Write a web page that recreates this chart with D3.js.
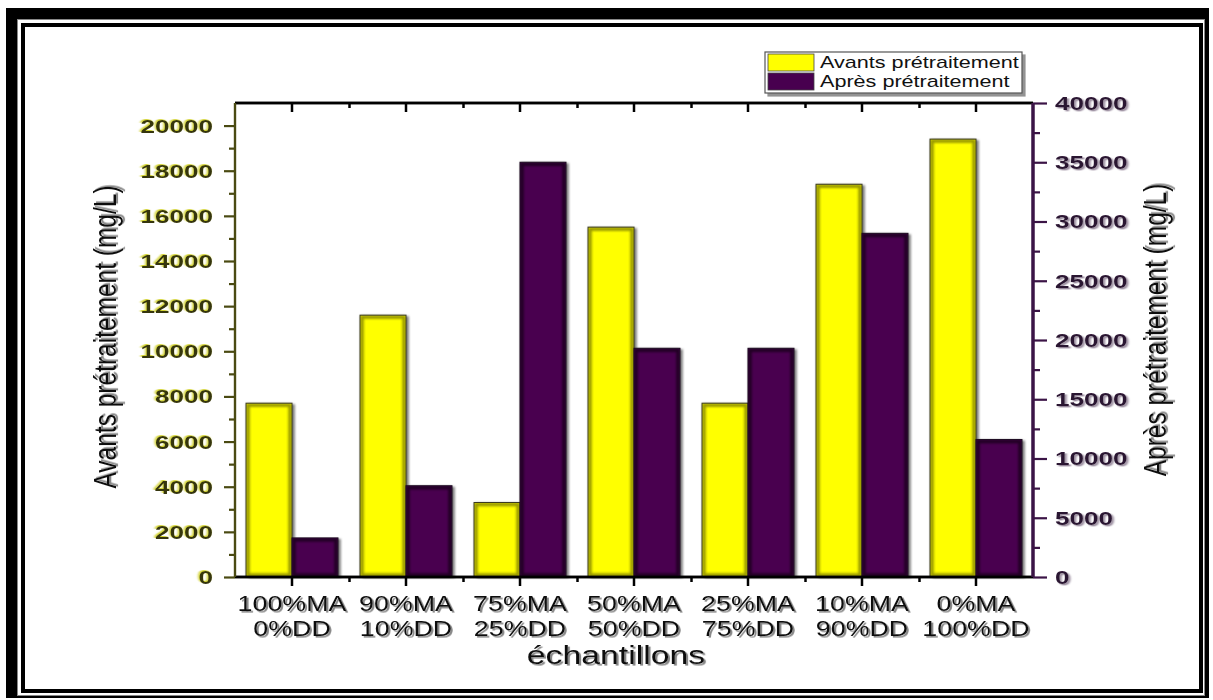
<!DOCTYPE html>
<html>
<head>
<meta charset="utf-8">
<script src="https://cdn.jsdelivr.net/npm/d3@7/dist/d3.min.js"></script>
<style>
  html, body { margin: 0; padding: 0; background: #fff; }
  svg { display: block; font-family: "Liberation Sans", Arial, sans-serif; }
</style>
</head>
<body>
<svg id="chart" width="1213" height="700"></svg>
<script>
// Sample mixes (MA / DD proportions)
const maLabels = ["100%MA", "90%MA", "75%MA", "50%MA", "25%MA", "10%MA", "0%MA"];
const ddLabels = ["0%DD", "10%DD", "25%DD", "50%DD", "75%DD", "90%DD", "100%DD"];
const categories = maLabels.map((m, i) => m + " " + ddLabels[i]);

// Concentrations (mg/L)
const avantValues = [7700, 11600, 3300, 15500, 7700, 17400, 19400];   // left axis
const apresValues = [3300, 7700, 35000, 19300, 19300, 29000, 11600];  // right axis

const seriesNames = ["Avants prétraitement", "Après prétraitement"];
const leftTicks = [0, 2000, 4000, 6000, 8000, 10000, 12000, 14000, 16000, 18000, 20000];
const leftMinor = [1000, 3000, 5000, 7000, 9000, 11000, 13000, 15000, 17000, 19000];
const rightTicks = [0, 5000, 10000, 15000, 20000, 25000, 30000, 35000, 40000];
const rightMinor = [2500, 7500, 12500, 17500, 22500, 27500, 32500, 37500];

const colors = { avant: "#ffff00", apres: "#48004f" };
const leftAxisColor = "#4a4a12";
const rightAxisColor = "#3b1446";

const svg = d3.select("#chart");
const defs = svg.append("defs");

// Grey drop shadow to the lower right of each bar
const fx = defs.append("filter").attr("id", "barFx")
  .attr("x", "-20%").attr("y", "-5%").attr("width", "140%").attr("height", "110%");
fx.append("feOffset").attr("in", "SourceAlpha").attr("dx", 2.5).attr("dy", 1).attr("result", "off");
fx.append("feGaussianBlur").attr("in", "off").attr("stdDeviation", 0.8).attr("result", "offb");
fx.append("feFlood").attr("flood-color", "#8a8a8a").attr("result", "grey");
fx.append("feComposite").attr("in", "grey").attr("in2", "offb").attr("operator", "in").attr("result", "drop");
const fm = fx.append("feMerge");
fm.append("feMergeNode").attr("in", "drop");
fm.append("feMergeNode").attr("in", "SourceGraphic");

// Soft blur for the darkened inner rim of bars
defs.append("filter").attr("id", "rimBlur").attr("x", "-20%").attr("y", "-5%").attr("width", "140%").attr("height", "110%")
  .append("feGaussianBlur").attr("stdDeviation", 1.1);

// Text shadows
function shadowFilter(id, color, dx, dy, op) {
  const f = defs.append("filter").attr("id", id)
    .attr("x", "-20%").attr("y", "-30%").attr("width", "140%").attr("height", "160%");
  f.append("feDropShadow").attr("dx", dx).attr("dy", dy).attr("stdDeviation", 0.6)
    .attr("flood-color", color).attr("flood-opacity", op);
}
shadowFilter("txtShadow", "#7a7a7a", 1.6, 1.6, 0.9);
shadowFilter("leftShadow", "#c8c800", -1.0, -1.0, 0.8);
shadowFilter("rightShadow", "#8a7a90", 1.4, 1.4, 0.9);
shadowFilter("boxShadow", "#777", 3, 3, 0.8);

// Double frame around the figure
svg.append("rect").attr("x", 6).attr("y", 8).attr("width", 1203).attr("height", 690).attr("fill", "#000");
svg.append("rect").attr("x", 17.5).attr("y", 19.5).attr("width", 1187).attr("height", 676)
  .attr("fill", "#fff").attr("stroke", "#888").attr("stroke-width", 1);
svg.append("rect").attr("x", 23).attr("y", 25).attr("width", 1178).attr("height", 666)
  .attr("fill", "#fff").attr("stroke", "#000").attr("stroke-width", 4);

// Scales
const plot = { left: 235, right: 1033, top: 103, bottom: 577 };
const x = d3.scaleBand().domain(categories).range([plot.left, plot.right]).paddingInner(0).paddingOuter(0);
const xSub = d3.scaleBand().domain(["avant", "apres"]).range([0, x.bandwidth()]).paddingInner(0).paddingOuter(0.24);
const yLeft = d3.scaleLinear().domain([0, 21000]).range([plot.bottom, plot.top]);
const yRight = d3.scaleLinear().domain([0, 40000]).range([plot.bottom, plot.top]);

// Bars
const barSeries = [
  { key: "avant", values: avantValues, y: yLeft, fill: colors.avant, stroke: "#3a3a20", rim: "rgba(70,70,0,0.55)" },
  { key: "apres", values: apresValues, y: yRight, fill: colors.apres, stroke: "#1e0a22", rim: "rgba(0,0,0,0.55)" }
];
const bars = svg.append("g");
barSeries.forEach(s => {
  const g = bars.append("g");
  const bx = (d, i) => x(categories[i]) + xSub(s.key);
  g.selectAll("rect.body").data(s.values).join("rect")
    .attr("class", "body")
    .attr("x", bx)
    .attr("y", d => s.y(d))
    .attr("width", xSub.bandwidth())
    .attr("height", d => s.y(0) - s.y(d))
    .attr("fill", s.fill)
    .attr("filter", "url(#barFx)");
  g.selectAll("rect.rim").data(s.values).join("rect")
    .attr("class", "rim")
    .attr("x", (d, i) => bx(d, i) + 2)
    .attr("y", d => s.y(d) + 2)
    .attr("width", xSub.bandwidth() - 4)
    .attr("height", d => Math.max(0, s.y(0) - s.y(d) - 4))
    .attr("fill", "none").attr("stroke", s.rim).attr("stroke-width", 3.5)
    .attr("filter", "url(#rimBlur)");
  g.selectAll("rect.edge").data(s.values).join("rect")
    .attr("class", "edge")
    .attr("x", bx)
    .attr("y", d => s.y(d))
    .attr("width", xSub.bandwidth())
    .attr("height", d => s.y(0) - s.y(d))
    .attr("fill", "none").attr("stroke", s.stroke).attr("stroke-width", 1);
});

// Top axis (ticks pointing inward, no labels)
const boundaries = categories.slice(1).map(c => x(c));
const edgeScale = d3.scaleLinear().domain([plot.left, plot.right]).range([plot.left, plot.right]);
const topG = svg.append("g").attr("transform", `translate(0,${plot.top})`);
topG.call(d3.axisBottom(x).tickSize(9).tickFormat(""));
topG.append("g").call(d3.axisBottom(edgeScale).tickValues(boundaries).tickSize(5).tickFormat(""));
topG.selectAll("path, line").attr("stroke", "#000").attr("stroke-width", 2.5);
topG.selectAll("path.domain").attr("d", `M${plot.left},0H${plot.right}`);

// Bottom axis
const botG = svg.append("g").attr("transform", `translate(0,${plot.bottom})`);
botG.call(d3.axisBottom(x).tickSize(9).tickFormat(""));
botG.append("g").call(d3.axisBottom(edgeScale).tickValues(boundaries).tickSize(5).tickFormat(""));
botG.selectAll("path, line").attr("stroke", "#000").attr("stroke-width", 2.5);
botG.selectAll("path.domain").attr("d", `M${plot.left},0H${plot.right}`);

// Category labels (two lines each)
const catSx = 1.22;
categories.forEach((c, i) => {
  const cx = x(c) + x.bandwidth() / 2;
  [[maLabels[i], 611], [ddLabels[i], 636]].forEach(([t, y]) => {
    svg.append("text").attr("transform", `translate(${cx},${y}) scale(${catSx},1)`)
      .attr("text-anchor", "middle").attr("font-size", 22).attr("fill", "#111")
      .attr("filter", "url(#txtShadow)").text(t);
  });
});
svg.append("text").attr("transform", `translate(${(plot.left + plot.right) / 2 - 18},664) scale(1.3,1)`)
  .attr("text-anchor", "middle").attr("font-size", 26).attr("fill", "#111")
  .attr("filter", "url(#txtShadow)").text("échantillons");

// Left axis
const tickSx = 1.45;
const leftG = svg.append("g").attr("transform", `translate(${plot.left},0)`);
leftG.call(d3.axisLeft(yLeft).tickValues(leftTicks).tickSize(11).tickFormat(d3.format("d")));
leftG.append("g").call(d3.axisLeft(yLeft).tickValues(leftMinor).tickSize(6).tickFormat(""));
leftG.selectAll("path, line").attr("stroke", leftAxisColor).attr("stroke-width", 2.2);
leftG.selectAll("path.domain").attr("d", `M0,${plot.bottom}V${plot.top}`);
leftG.selectAll("text")
  .attr("x", -22 / tickSx).attr("dy", "0.36em")
  .attr("transform", `scale(${tickSx},1)`)
  .attr("font-size", 18).attr("font-weight", "bold")
  .attr("font-family", "'Liberation Sans', Arial, sans-serif")
  .attr("fill", "#36360f").attr("filter", "url(#leftShadow)");

// Right axis
const rightG = svg.append("g").attr("transform", `translate(${plot.right},0)`);
rightG.call(d3.axisRight(yRight).tickValues(rightTicks).tickSize(14).tickFormat(d3.format("d")));
rightG.append("g").call(d3.axisRight(yRight).tickValues(rightMinor).tickSize(7).tickFormat(""));
rightG.selectAll("path, line").attr("stroke", rightAxisColor).attr("stroke-width", 2.2);
rightG.selectAll("path.domain").attr("d", `M0,${plot.bottom}V${plot.top}`).attr("stroke-width", 3);
rightG.selectAll("text")
  .attr("x", 22 / tickSx).attr("dy", "0.36em")
  .attr("transform", `scale(${tickSx},1)`)
  .attr("font-size", 18).attr("font-weight", "bold")
  .attr("font-family", "'Liberation Sans', Arial, sans-serif")
  .attr("fill", "#2c1432").attr("filter", "url(#rightShadow)");

// Axis titles
svg.append("text").attr("transform", `translate(116,337) scale(1.3,1) rotate(-90)`)
  .attr("text-anchor", "middle").attr("font-size", 24.5).attr("fill", "#111")
  .attr("filter", "url(#txtShadow)").text("Avants prétraitement (mg/L)");
svg.append("text").attr("transform", `translate(1166,330) scale(1.3,1) rotate(-90)`)
  .attr("text-anchor", "middle").attr("font-size", 24.5).attr("fill", "#111")
  .attr("filter", "url(#txtShadow)").text("Après prétraitement (mg/L)");

// Legend
const legend = svg.append("g").attr("transform", "translate(765,52)");
legend.append("rect").attr("width", 257).attr("height", 41)
  .attr("fill", "#fff").attr("stroke", "#555").attr("stroke-width", 1.2)
  .attr("filter", "url(#boxShadow)");
const legendColors = [colors.avant, colors.apres];
seriesNames.forEach((name, i) => {
  legend.append("rect").attr("x", 3).attr("y", 2 + i * 19).attr("width", 46).attr("height", 17)
    .attr("fill", legendColors[i]).attr("stroke", "#444").attr("stroke-width", 0.8);
  legend.append("text").attr("transform", `translate(55,${16 + i * 19}) scale(1.35,1)`)
    .attr("font-size", 16).attr("fill", "#111").text(name);
});
</script>
</body>
</html>
